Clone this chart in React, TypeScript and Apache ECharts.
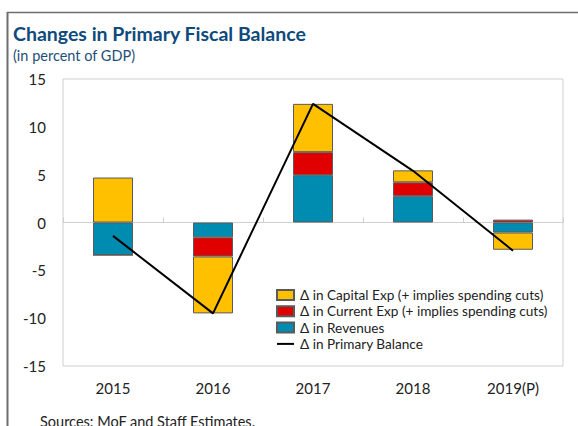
import React, { useEffect, useRef } from "react";
import * as echarts from "echarts";

const categories = ["2015", "2016", "2017", "2018", "2019(P)"];
const revenues = [-3.4, -1.55, 4.95, 2.75, -1.05];
const currentExp = [0, -2.0, 2.4, 1.45, 0.3];
const capitalExp = [4.7, -5.95, 5.05, 1.25, -1.8];
const primaryBalance = [-1.4, -9.5, 12.4, 5.4, -2.95];
const yTicks = { min: -15, max: 15, interval: 5 };

const FONT = "Lato, 'Open Sans', sans-serif";

export default function App() {
  const ref = useRef<HTMLDivElement>(null);
  useEffect(() => {
    if (!ref.current) return;
    const chart = echarts.init(ref.current, null, { renderer: "svg" });
    const barBorder = { borderColor: "#5a5a5a", borderWidth: 1 };
    chart.setOption({
      animation: false,
      textStyle: { fontFamily: FONT },
      title: [
        {
          text: "Changes in Primary Fiscal Balance",
          left: 13,
          top: 23,
          padding: 0,
          textStyle: { fontFamily: FONT, fontSize: 19.5, fontWeight: "bold", color: "#0e4a7c" },
        },
        {
          text: "(in percent of GDP)",
          left: 13,
          top: 48,
          padding: 0,
          textStyle: { fontFamily: FONT, fontSize: 14.5, fontWeight: "normal", color: "#1f4e79" },
        },
        {
          text: "Sources: MoF and Staff Estimates.",
          left: 40,
          top: 414,
          padding: 0,
          textStyle: { fontFamily: FONT, fontSize: 14.5, fontWeight: "normal", color: "#222" },
        },
      ],
      graphic: [
        { type: "line", shape: { x1: 7, y1: 12.5, x2: 578, y2: 12.5 }, style: { stroke: "#6e6e6e", lineWidth: 1.5 } },
        { type: "line", shape: { x1: 7.5, y1: 12, x2: 7.5, y2: 426 }, style: { stroke: "#6e6e6e", lineWidth: 2 } },
      ],
      grid: { left: 63, right: 15, top: 79, bottom: 60, show: true, borderColor: "#cfcfcf", borderWidth: 1, containLabel: false },
      legend: {
        orient: "vertical",
        left: 276,
        top: 288,
        padding: 0,
        itemWidth: 17,
        itemHeight: 10,
        itemGap: 2.3,
        icon: "rect",
        textStyle: { fontFamily: FONT, fontSize: 13.6, color: "#222", padding: [0, 0, 0, 1] },
        data: [
          { name: "Δ in Capital Exp (+ implies spending cuts)" },
          { name: "Δ in Current Exp (+ implies spending cuts)" },
          { name: "Δ in Revenues" },
          { name: "Δ in Primary Balance", icon: "path://M0,0 L17,0 L17,2 L0,2 Z", itemStyle: { color: "#000", borderWidth: 0 } },
        ],
      },
      xAxis: [
        {
          type: "category",
          data: categories,
          position: "bottom",
          axisLine: { onZero: true, lineStyle: { color: "#cfcfcf", width: 1 } },
          axisTick: { show: true, inside: true, length: 5, lineStyle: { color: "#cfcfcf" } },
          axisLabel: { show: false },
        },
        {
          type: "category",
          data: categories,
          position: "bottom",
          axisLine: { show: false, onZero: false },
          axisTick: { show: false },
          axisLabel: { show: true, fontFamily: FONT, fontSize: 15, color: "#222", margin: 14 },
        },
      ],
      yAxis: {
        type: "value",
        min: yTicks.min,
        max: yTicks.max,
        interval: yTicks.interval,
        axisLine: { show: false },
        axisTick: { show: false },
        splitLine: { show: false },
        axisLabel: { fontFamily: FONT, fontSize: 15, color: "#222", margin: 17 },
      },
      series: [
        {
          name: "Δ in Revenues",
          type: "bar",
          stack: "fb",
          barWidth: "40%",
          data: revenues,
          itemStyle: { color: "#008bb0", ...barBorder },
        },
        {
          name: "Δ in Current Exp (+ implies spending cuts)",
          type: "bar",
          stack: "fb",
          barWidth: "40%",
          data: currentExp,
          itemStyle: { color: "#e00000", ...barBorder },
        },
        {
          name: "Δ in Capital Exp (+ implies spending cuts)",
          type: "bar",
          stack: "fb",
          barWidth: "40%",
          data: capitalExp,
          itemStyle: { color: "#ffc000", ...barBorder },
        },
        {
          name: "Δ in Primary Balance",
          type: "line",
          data: primaryBalance,
          symbol: "none",
          lineStyle: { color: "#000", width: 2 },
          itemStyle: { color: "#000" },
          z: 5,
        },
      ],
    });
    return () => chart.dispose();
  }, []);
  return <div ref={ref} style={{ position: "fixed", left: 0, top: 0, width: 578, height: 426, background: "#fff" }} />;
}
